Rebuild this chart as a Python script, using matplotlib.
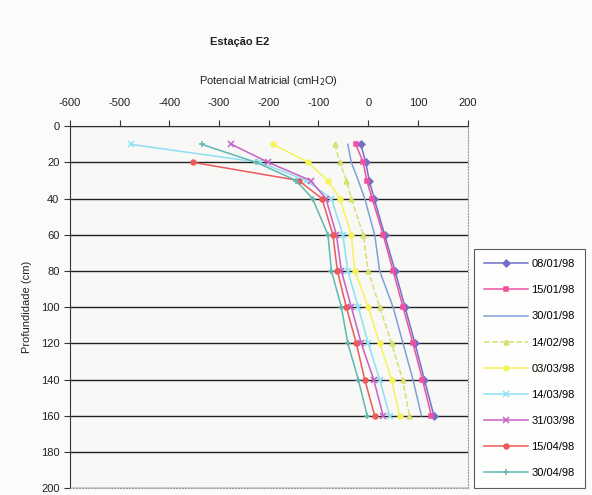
import matplotlib
matplotlib.use("Agg")
import matplotlib.pyplot as plt
import numpy as np

plt.rcParams['font.family'] = ['Liberation Sans', 'DejaVu Sans']
plt.rcParams['axes.unicode_minus'] = False

depths = [10, 20, 30, 40, 60, 80, 100, 120, 140, 160]

dates = ["08/01/98", "15/01/98", "30/01/98", "14/02/98", "03/03/98",
         "14/03/98", "31/03/98", "15/04/98", "30/04/98"]

pot_0801 = [-15, -5, 2, 12, 33, 54, 74, 94, 113, 132]
pot_1501 = [-25, -10, -3, 8, 30, 50, 70, 90, 109, 127]
pot_3001 = [-41, -34, -20, -7, 13, 23, 50, 70, 90, 107]
pot_1402 = [-67, -57, -44, -34, -10, 0, 23, 47, 69, 83]
pot_0303 = [-191, -121, -81, -57, -34, -27, 0, 23, 47, 63]
pot_1403 = [-478, -218, -125, -74, -51, -41, -20, 0, 23, 43]
pot_3103 = [-275, -201, -116, -85, -64, -54, -34, -14, 11, 30]
pot_1504 = [np.nan, -352, -140, -93, -71, -62, -44, -24, -7, 13]
pot_3004 = [-335, -225, -145, -112, -81, -74, -54, -41, -20, -2]

series = [pot_0801, pot_1501, pot_3001, pot_1402, pot_0303,
          pot_1403, pot_3103, pot_1504, pot_3004]

styles = [
    dict(color="#7070c8", marker="D", ms=3.5, ls="-"),
    dict(color="#f050a0", marker="s", ms=3.5, ls="-"),
    dict(color="#7fa0d8", marker="", ms=0, ls="-"),
    dict(color="#d8e070", marker="^", ms=3.5, ls="--"),
    dict(color="#f6f25a", marker="o", ms=3.5, ls="-"),
    dict(color="#8ee0f0", marker="x", ms=4.5, ls="-"),
    dict(color="#c860c8", marker="x", ms=4.5, ls="-"),
    dict(color="#ec5a5a", marker="o", ms=3.5, ls="-"),
    dict(color="#60b8b0", marker="+", ms=4.5, ls="-"),
]

fig = plt.figure(figsize=(5.92, 4.95), dpi=100, facecolor="#fbfbf9")
ax = fig.add_axes([0.118, 0.014, 0.672, 0.731], facecolor="#f8f8f6")

for label, vals, st in zip(dates, series, styles):
    ax.plot(vals, depths, color=st["color"], marker=st["marker"],
            markersize=st["ms"], linestyle=st["ls"], linewidth=1.1,
            markeredgewidth=1.1, label=label)

ax.set_xlim(-600, 200)
ax.set_ylim(200, 0)
ax.set_xticks(np.arange(-600, 201, 100))
ax.set_yticks(np.arange(0, 201, 20))
ax.xaxis.tick_top()
ax.xaxis.set_label_position("top")
ax.tick_params(axis="both", labelsize=8, direction="out", length=4,
               color="#333333", labelcolor="#222222")
ax.tick_params(axis="x", pad=9)
ax.yaxis.grid(True, color="#222222", linewidth=1.0)
ax.set_axisbelow(True)

for s in ["right", "bottom"]:
    ax.spines[s].set_linestyle(":")
    ax.spines[s].set_color("#999999")
for s in ["left", "top"]:
    ax.spines[s].set_color("#333333")

ax.set_xlabel("Potencial Matricial (cmH$_2$O)", fontsize=8, labelpad=10,
              color="#222222")
ax.set_ylabel("Profundidade (cm)", fontsize=8, labelpad=6, color="#222222")

fig.text(0.405, 0.915, "Estação E2", fontsize=8, fontweight="bold",
         ha="center", va="center", color="#222222")

leg = ax.legend(loc="lower left", bbox_to_anchor=(1.015, 0.0),
                fontsize=8, frameon=True, fancybox=False, edgecolor="#333333",
                handlelength=4.0, borderpad=0.9, labelspacing=1.45,
                handletextpad=0.3, borderaxespad=0.0)
leg.get_frame().set_linewidth(0.8)
leg.get_frame().set_facecolor("#ffffff")

fig.savefig("out.png", dpi=100, facecolor=fig.get_facecolor())
